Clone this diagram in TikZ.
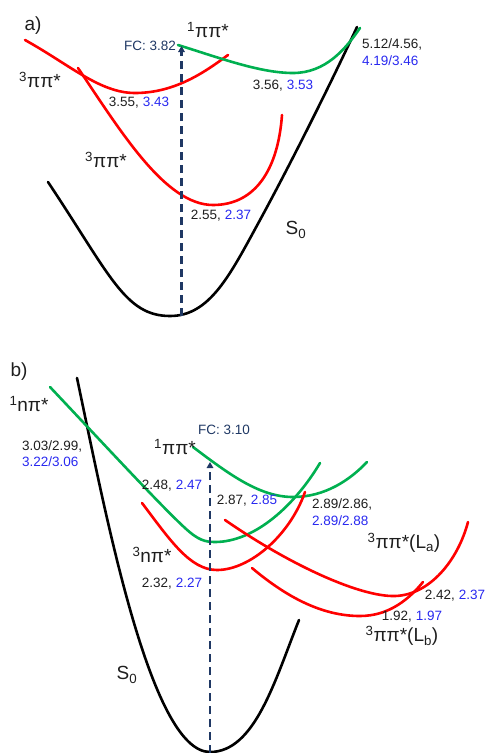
\documentclass[tikz,border=0pt]{standalone}
\usepackage{fontspec}
\setmainfont{Liberation Sans}
\usetikzlibrary{arrows.meta}
\definecolor{cred}{RGB}{255,0,0}
\definecolor{cgreen}{RGB}{0,176,80}
\definecolor{cblue}{RGB}{40,40,240}
\definecolor{cnavy}{RGB}{31,56,100}
\definecolor{ctext}{RGB}{30,30,30}
\begin{document}
\begin{tikzpicture}[x=1pt,y=-1pt,
  curve/.style={line width=2.6pt, line cap=round},
  num/.style={font=\fontsize{13.5}{15}\selectfont, text=ctext, inner sep=0pt},
  lab/.style={font=\fontsize{19}{21}\selectfont, text=ctext, inner sep=0pt},
  fcarrow/.style={cnavy, line width=2.2pt, dash pattern=on 8pt off 5pt, -{Triangle[width=6.5pt,length=6pt]}}]
\useasboundingbox (0,0) rectangle (490,753);
% ---------------- panel a ----------------
\node[lab] (pa) at (33,26) {a)};
% S0
\draw[curve, black] (48,182) .. controls (110,275) and (125,316) .. (170,316)
  .. controls (210,316) and (230,275) .. (260,220)
  .. controls (290,165) and (330,85) .. (357,27);
% lower 3pipi*
\draw[curve, cred] (78,68) .. controls (120,130) and (165,205) .. (213,205)
  .. controls (255,205) and (278,170) .. (282,115);
% upper 3pipi*
\draw[curve, cred] (25,40) .. controls (70,65) and (100,93) .. (135,93)
  .. controls (175,93) and (205,72) .. (228,55);
% 1pipi*
\draw[curve, cgreen] (178,45) .. controls (220,58) and (260,73) .. (293,73)
  .. controls (325,73) and (345,50) .. (360,28);
% FC arrow
\coordinate (a0) at (181.5,316);
\coordinate (a1) at (181.5,46);
\draw[fcarrow] (a0) -- (a1);
\node[num, text=cnavy] (fca) at (150,46) {FC: 3.82};
\node[lab] (a1pp) at (208,30) {\textsuperscript{1}ππ*};
\node[lab] (a3pp1) at (40,80) {\textsuperscript{3}ππ*};
\node[lab] (a3pp2) at (106,160) {\textsuperscript{3}ππ*};
\node[num] (av1) at (139,103) {3.55, \textcolor{cblue}{3.43}};
\node[num] (av2) at (283,86) {3.56, \textcolor{cblue}{3.53}};
\node[num, anchor=west] (av3) at (362,44) {5.12/4.56,};
\node[num, anchor=west, text=cblue] (av4) at (362,61) {4.19/3.46};
\node[num] (av5) at (221,216) {2.55, \textcolor{cblue}{2.37}};
\node[lab] (aS0) at (296,230) {S\textsubscript{0}};
% ---------------- panel b ----------------
\node[lab] (pb) at (19,372) {b)};
% S0
\draw[curve, black] (77,378) .. controls (105,510) and (150,752) .. (210,752)
  .. controls (255,752) and (275,680) .. (299,620);
% 1npi*
\draw[curve, cgreen] (50,387) .. controls (100,440) and (160,505) .. (185,528)
  .. controls (198,540) and (205,542) .. (215,542)
  .. controls (255,542) and (295,505) .. (320,463);
% 1pipi*
\draw[curve, cgreen] (193,447) .. controls (230,475) and (260,497) .. (293,497)
  .. controls (325,497) and (350,480) .. (367,462);
% 3npi*
\draw[curve, cred] (142,503) .. controls (170,540) and (190,570) .. (217,570)
  .. controls (250,570) and (290,535) .. (305,492);
% 3pipi*(La)
\draw[curve, cred] (225,520) .. controls (290,565) and (360,597) .. (395,596)
  .. controls (430,595) and (458,560) .. (468,522);
% 3pipi*(Lb)
\draw[curve, cred] (252,568) .. controls (290,600) and (325,616) .. (360,616)
  .. controls (390,616) and (410,598) .. (423,582);
% FC arrow
\coordinate (b0) at (210,753);
\coordinate (b1) at (210,462);
\draw[fcarrow] (b0) -- (b1);
\node[num, text=cnavy] (fcb) at (224,430) {FC: 3.10};
\node[lab] (b1np) at (29,404) {\textsuperscript{1}nπ*};
\node[lab] (b1pp) at (175,447) {\textsuperscript{1}ππ*};
\node[lab] (b3np) at (152,555) {\textsuperscript{3}nπ*};
\node[lab] (bLa) at (404,543) {\textsuperscript{3}ππ*(L\textsubscript{a})};
\node[lab] (bLb) at (402,636) {\textsuperscript{3}ππ*(L\textsubscript{b})};
\node[lab] (bS0) at (127,675) {S\textsubscript{0}};
\node[num, anchor=west] (bv1) at (22,446) {3.03/2.99,};
\node[num, anchor=west, text=cblue] (bv2) at (22,462) {3.22/3.06};
\node[num] (bv3) at (172,486) {2.48, \textcolor{cblue}{2.47}};
\node[num] (bv4) at (247,501) {2.87, \textcolor{cblue}{2.85}};
\node[num, anchor=west] (bv5) at (312,504) {2.89/2.86,};
\node[num, anchor=west, text=cblue] (bv6) at (312,521) {2.89/2.88};
\node[num] (bv7) at (172,584) {2.32, \textcolor{cblue}{2.27}};
\node[num] (bv8) at (455,596) {2.42, \textcolor{cblue}{2.37}};
\node[num] (bv9) at (412,617) {1.92, \textcolor{cblue}{1.97}};
\end{tikzpicture}
\end{document}
